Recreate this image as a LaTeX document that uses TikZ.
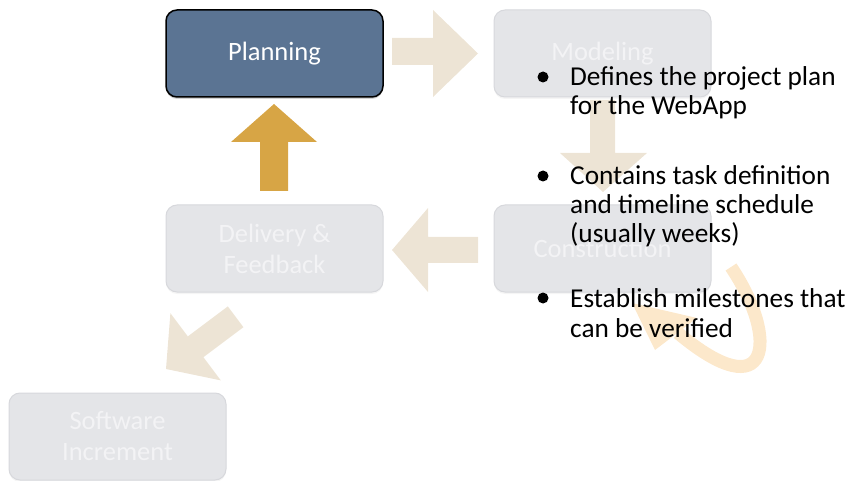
\documentclass[tikz,border=0pt]{standalone}
\usepackage{fontspec}
\setmainfont{Carlito}
\usetikzlibrary{shadows}
\definecolor{planfill}{HTML}{5B7493}
\definecolor{greyfill}{HTML}{E4E5E8}
\definecolor{greyline}{HTML}{D7D8DC}
\definecolor{greytext}{HTML}{F3F3F5}
\definecolor{beige}{HTML}{EDE4D5}
\definecolor{gold}{HTML}{D7A545}
\definecolor{peach}{HTML}{FCE8CB}
\begin{document}
\begin{tikzpicture}[x=1pt,y=-1pt,
  stage/.style={rounded corners=11pt, minimum width=217pt, minimum height=87pt,
    align=center, font=\fontsize{26.5}{31}\selectfont, inner sep=0pt},
  greystage/.style={stage, fill=greyfill, draw=greyline, line width=1pt, text=greytext,
    drop shadow={opacity=0.08, shadow xshift=0pt, shadow yshift=-2pt}},
  planstage/.style={stage, fill=planfill, draw=black, line width=1.5pt, text=white,
    drop shadow={opacity=0.35, shadow xshift=0pt, shadow yshift=-2pt}},
  bigarrow/.style={fill=beige},
  bullettext/.style={anchor=base west, inner sep=0pt, font=\fontsize{27.3}{30}\selectfont},
  dot/.style={circle, fill=black, minimum size=11pt, inner sep=0pt}]
\useasboundingbox (0,0) rectangle (849,481);

% stages
\node[planstage] (plan) at (274.5,53.5) {Planning};
\node[greystage] (model) at (602.5,53.5) {Modeling};
\node[greystage] (deliv) at (274.5,248.5) {Delivery \&\\Feedback};
\node[greystage] (constr) at (602.5,248.5) {Construction};
\node[greystage] (soft) at (117.5,436.5) {Software\\Increment};

% block arrows
\fill[bigarrow] (392,38) -- (433,38) -- (433,10) -- (478,53.5) -- (433,97) -- (433,65) -- (392,65) -- cycle;
\fill[gold] (260,191) -- (260,142) -- (231,142) -- (274,104) -- (317,142) -- (288,142) -- (288,191) -- cycle;
\fill[bigarrow] (590,100) -- (590,153) -- (560,153) -- (603,192) -- (647,153) -- (615,153) -- (615,100) -- cycle;
\fill[bigarrow] (478,237) -- (428,237) -- (428,208) -- (392,250) -- (428,292) -- (428,263) -- (478,263) -- cycle;
\fill[bigarrow] (227.8,306.4) -- (187.8,336.4) -- (170.4,313.2) -- (166,369) -- (220.8,380.4) -- (203.4,357.2) -- (243.4,327.2) -- cycle;

% curved loop arrow
\draw[peach, line width=13pt] (731,267) .. controls (780,340) and (770,410) .. (678,333);
\fill[peach] (632,303) -- (655,350) -- (697,318) -- cycle;

% bullets
\node[dot] (d1) at (543,77) {};
\node[bullettext] (t1a) at (570,86) {Defines the project plan};
\node[bullettext] (t1b) at (570,115) {for the WebApp};
\node[dot] (d2) at (543,176) {};
\node[bullettext] (t2a) at (570,185) {Contains task definition};
\node[bullettext] (t2b) at (570,214) {and timeline schedule};
\node[bullettext] (t2c) at (570,243) {(usually weeks)};
\node[dot] (d3) at (543,298) {};
\node[bullettext] (t3a) at (570,307) {Establish milestones that};
\node[bullettext] (t3b) at (570,337) {can be verified};
\end{tikzpicture}
\end{document}
